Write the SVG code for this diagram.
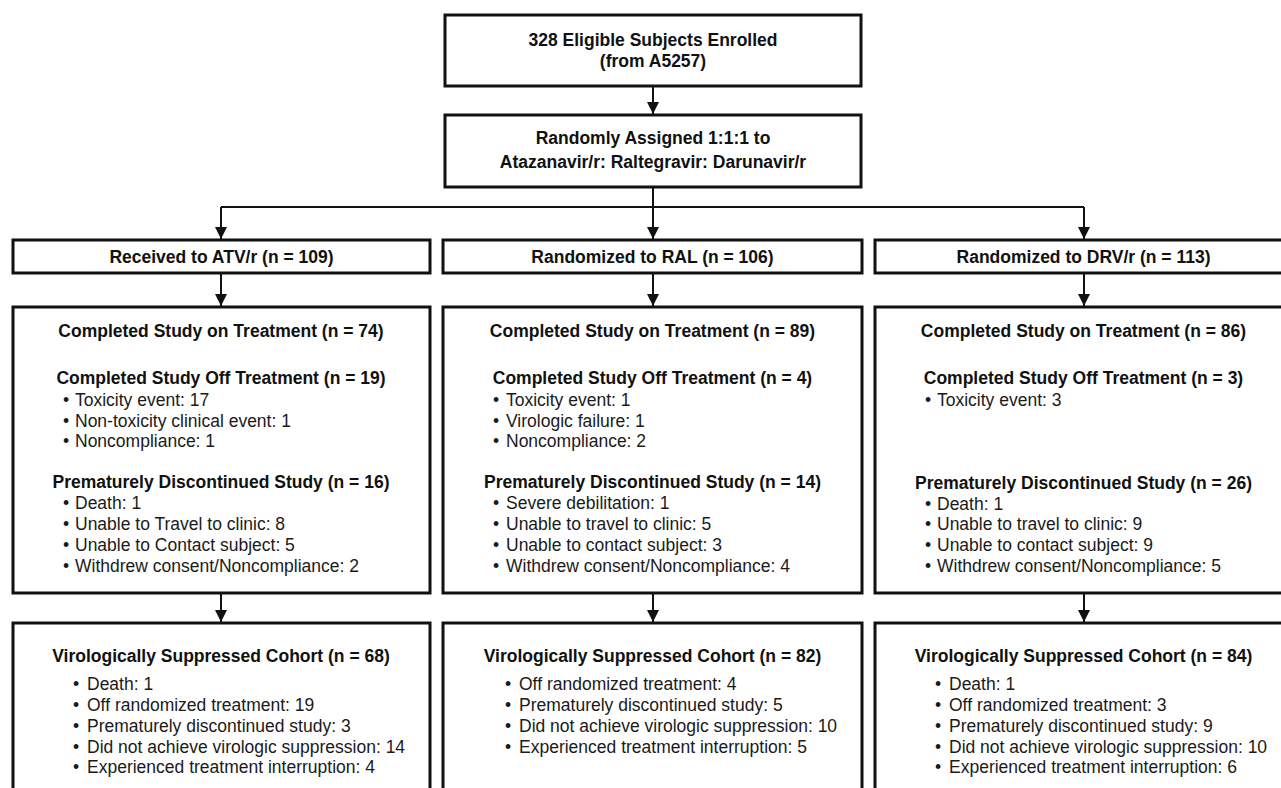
<svg xmlns="http://www.w3.org/2000/svg" width="1281" height="788" viewBox="0 0 1281 788">
<style>
.box{fill:#fff;stroke:#111;stroke-width:3}
.b{font-family:"Liberation Sans",Arial,sans-serif;font-size:17.5px;font-weight:bold;fill:#111;text-anchor:middle}
.t{font-family:"Liberation Sans",Arial,sans-serif;font-size:17.5px;fill:#1a1a1a}
.ln{fill:none;stroke:#111;stroke-width:2}
</style>
<defs>
<marker id="arr" markerUnits="userSpaceOnUse" markerWidth="12" markerHeight="12" viewBox="0 0 12 12" refX="6" refY="12" orient="auto-start-reverse">
<path d="M0,0 L12,0 L6,12 Z" fill="#111" transform="rotate(0)"/>
</marker>
</defs>
<rect width="1281" height="788" fill="#fff"/>
<g id="connectors">
<line class="ln" x1="653" y1="86" x2="653" y2="114"/>
<path d="M653,114 l-6,-12 h12 z" fill="#111"/>
<line class="ln" x1="653" y1="187" x2="653" y2="207"/>
<line class="ln" x1="221" y1="207" x2="1084" y2="207"/>
<line class="ln" x1="221" y1="207" x2="221" y2="239"/>
<path d="M221,239 l-6,-12 h12 z" fill="#111"/>
<line class="ln" x1="653" y1="207" x2="653" y2="239"/>
<path d="M653,239 l-6,-12 h12 z" fill="#111"/>
<line class="ln" x1="1084" y1="207" x2="1084" y2="239"/>
<path d="M1084,239 l-6,-12 h12 z" fill="#111"/>
<line class="ln" x1="221" y1="273" x2="221" y2="306"/>
<path d="M221,306 l-6,-12 h12 z" fill="#111"/>
<line class="ln" x1="653" y1="273" x2="653" y2="306"/>
<path d="M653,306 l-6,-12 h12 z" fill="#111"/>
<line class="ln" x1="1084" y1="273" x2="1084" y2="306"/>
<path d="M1084,306 l-6,-12 h12 z" fill="#111"/>
<line class="ln" x1="221" y1="593" x2="221" y2="622"/>
<path d="M221,622 l-6,-12 h12 z" fill="#111"/>
<line class="ln" x1="653" y1="593" x2="653" y2="622"/>
<path d="M653,622 l-6,-12 h12 z" fill="#111"/>
<line class="ln" x1="1084" y1="593" x2="1084" y2="622"/>
<path d="M1084,622 l-6,-12 h12 z" fill="#111"/>
</g>
<g id="enrolled">
<rect class="box" x="445" y="15" width="416" height="71"/>
<text class="b" x="653" y="46">328 Eligible Subjects Enrolled</text>
<text class="b" x="653" y="67">(from A5257)</text>
</g>
<g id="randomized">
<rect class="box" x="445" y="115" width="416" height="72"/>
<text class="b" x="653" y="144">Randomly Assigned 1:1:1 to</text>
<text class="b" x="653" y="168">Atazanavir/r: Raltegravir: Darunavir/r</text>
</g>
<g id="atv">
<rect class="box" x="13" y="240" width="417" height="33"/>
<text class="b" x="221.5" y="263">Received to ATV/r (n = 109)</text>
</g>
<g id="ral">
<rect class="box" x="443" y="240" width="419" height="33"/>
<text class="b" x="652.5" y="263">Randomized to RAL (n = 106)</text>
</g>
<g id="drv">
<rect class="box" x="875" y="240" width="418" height="33"/>
<text class="b" x="1083.5" y="263">Randomized to DRV/r (n = 113)</text>
</g>
<g id="atv-outcome">
<rect class="box" x="13" y="307" width="417" height="286"/>
<text class="b" x="221" y="337">Completed Study on Treatment (n = 74)</text>
<text class="b" x="221" y="384">Completed Study Off Treatment (n = 19)</text>
<text class="t" x="63" y="406">•</text><text class="t" x="75" y="406">Toxicity event: 17</text>
<text class="t" x="63" y="427">•</text><text class="t" x="75" y="427">Non-toxicity clinical event: 1</text>
<text class="t" x="63" y="447">•</text><text class="t" x="75" y="447">Noncompliance: 1</text>
<text class="b" x="221" y="488">Prematurely Discontinued Study (n = 16)</text>
<text class="t" x="63" y="509">•</text><text class="t" x="75" y="509">Death: 1</text>
<text class="t" x="63" y="530">•</text><text class="t" x="75" y="530">Unable to Travel to clinic: 8</text>
<text class="t" x="63" y="551">•</text><text class="t" x="75" y="551">Unable to Contact subject: 5</text>
<text class="t" x="63" y="572">•</text><text class="t" x="75" y="572">Withdrew consent/Noncompliance: 2</text>
</g>
<g id="ral-outcome">
<rect class="box" x="443" y="307" width="419" height="286"/>
<text class="b" x="652.5" y="337">Completed Study on Treatment (n = 89)</text>
<text class="b" x="652.5" y="384">Completed Study Off Treatment (n = 4)</text>
<text class="t" x="493" y="406">•</text><text class="t" x="506" y="406">Toxicity event: 1</text>
<text class="t" x="493" y="427">•</text><text class="t" x="506" y="427">Virologic failure: 1</text>
<text class="t" x="493" y="447">•</text><text class="t" x="506" y="447">Noncompliance: 2</text>
<text class="b" x="652.5" y="488">Prematurely Discontinued Study (n = 14)</text>
<text class="t" x="493" y="509">•</text><text class="t" x="506" y="509">Severe debilitation: 1</text>
<text class="t" x="493" y="530">•</text><text class="t" x="506" y="530">Unable to travel to clinic: 5</text>
<text class="t" x="493" y="551">•</text><text class="t" x="506" y="551">Unable to contact subject: 3</text>
<text class="t" x="493" y="572">•</text><text class="t" x="506" y="572">Withdrew consent/Noncompliance: 4</text>
</g>
<g id="drv-outcome">
<rect class="box" x="875" y="307" width="418" height="286"/>
<text class="b" x="1083.5" y="337">Completed Study on Treatment (n = 86)</text>
<text class="b" x="1083.5" y="384">Completed Study Off Treatment (n = 3)</text>
<text class="t" x="925" y="406">•</text><text class="t" x="937" y="406">Toxicity event: 3</text>
<text class="b" x="1083.5" y="489">Prematurely Discontinued Study (n = 26)</text>
<text class="t" x="925" y="510">•</text><text class="t" x="937" y="510">Death: 1</text>
<text class="t" x="925" y="530">•</text><text class="t" x="937" y="530">Unable to travel to clinic: 9</text>
<text class="t" x="925" y="551">•</text><text class="t" x="937" y="551">Unable to contact subject: 9</text>
<text class="t" x="925" y="572">•</text><text class="t" x="937" y="572">Withdrew consent/Noncompliance: 5</text>
</g>
<g id="atv-cohort">
<rect class="box" x="13" y="623" width="417" height="190"/>
<text class="b" x="221" y="662">Virologically Suppressed Cohort (n = 68)</text>
<text class="t" x="73" y="690">•</text><text class="t" x="87" y="690">Death: 1</text>
<text class="t" x="73" y="711">•</text><text class="t" x="87" y="711">Off randomized treatment: 19</text>
<text class="t" x="73" y="732">•</text><text class="t" x="87" y="732">Prematurely discontinued study: 3</text>
<text class="t" x="73" y="753">•</text><text class="t" x="87" y="753">Did not achieve virologic suppression: 14</text>
<text class="t" x="73" y="773">•</text><text class="t" x="87" y="773">Experienced treatment interruption: 4</text>
</g>
<g id="ral-cohort">
<rect class="box" x="443" y="623" width="419" height="190"/>
<text class="b" x="652.5" y="662">Virologically Suppressed Cohort (n = 82)</text>
<text class="t" x="505" y="690">•</text><text class="t" x="519" y="690">Off randomized treatment: 4</text>
<text class="t" x="505" y="711">•</text><text class="t" x="519" y="711">Prematurely discontinued study: 5</text>
<text class="t" x="505" y="732">•</text><text class="t" x="519" y="732">Did not achieve virologic suppression: 10</text>
<text class="t" x="505" y="753">•</text><text class="t" x="519" y="753">Experienced treatment interruption: 5</text>
</g>
<g id="drv-cohort">
<rect class="box" x="875" y="623" width="418" height="190"/>
<text class="b" x="1083.5" y="662">Virologically Suppressed Cohort (n = 84)</text>
<text class="t" x="935" y="690">•</text><text class="t" x="949" y="690">Death: 1</text>
<text class="t" x="935" y="711">•</text><text class="t" x="949" y="711">Off randomized treatment: 3</text>
<text class="t" x="935" y="732">•</text><text class="t" x="949" y="732">Prematurely discontinued study: 9</text>
<text class="t" x="935" y="753">•</text><text class="t" x="949" y="753">Did not achieve virologic suppression: 10</text>
<text class="t" x="935" y="773">•</text><text class="t" x="949" y="773">Experienced treatment interruption: 6</text>
</g>
</svg>
